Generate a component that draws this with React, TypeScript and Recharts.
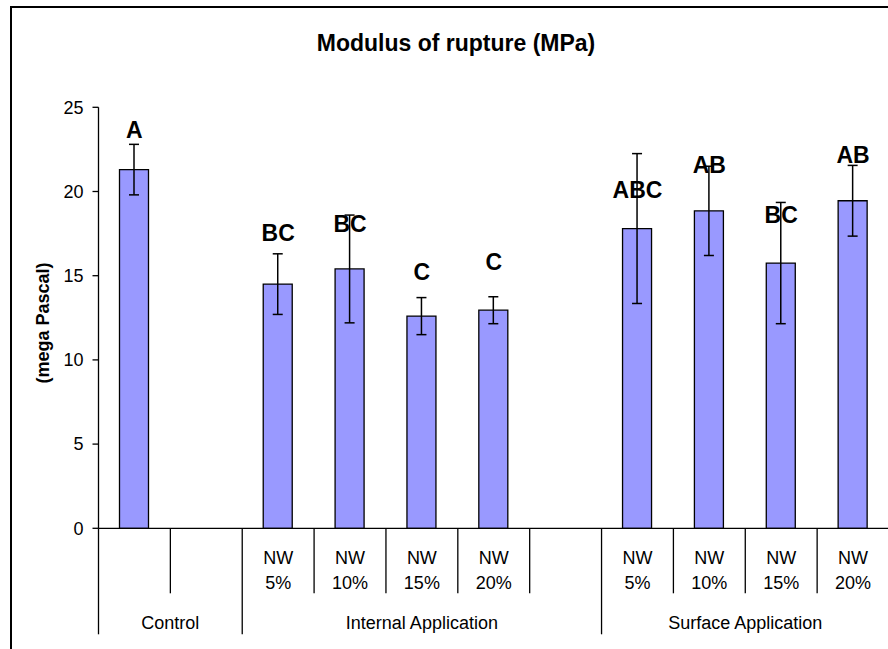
import React from 'react'
import { ComposedChart, Bar, ErrorBar, Scatter, XAxis, YAxis } from 'recharts'

// categories: one slot each, blanks are the gaps between groups
const slotKeys = ['ctrl', 'gap1', 'in5', 'in10', 'in15', 'in20', 'gap2', 'su5', 'su10', 'su15', 'su20']
const subLabels = ['', '', 'NW|5%', 'NW|10%', 'NW|15%', 'NW|20%', '', 'NW|5%', 'NW|10%', 'NW|15%', 'NW|20%']
const groupNames = ['Control', 'Internal Application', 'Surface Application']
const groupSizes = [2, 5, 4]

// modulus of rupture, MPa
const means = [21.3, null, 14.5, 15.4, 12.6, 12.95, null, 17.8, 18.85, 15.75, 19.45]
const errors = [1.5, null, 1.8, 3.2, 1.1, 0.8, null, 4.45, 2.65, 3.6, 2.1]
const letters = ['A', '', 'BC', 'BC', 'C', 'C', '', 'ABC', 'AB', 'BC', 'AB']
const letterAt = [23.65, null, 17.55, 18.05, 15.2, 15.8, null, 20.1, 21.55, 18.6, 22.15]

const yTicks = [0, 5, 10, 15, 20, 25]

const data = slotKeys.map((key, i) => ({
  key,
  sub: subLabels[i],
  mean: means[i],
  err: errors[i],
  letter: letters[i],
  letterAt: letterAt[i],
}))

const FONT = '"Liberation Sans", Arial, sans-serif'
const W = 900
const H = 649
const PLOT_LEFT = 98.5
const PLOT_RIGHT = 889
const PLOT_TOP = 107.3
const PLOT_BOTTOM = 528.3
const SLOT = (PLOT_RIGHT - PLOT_LEFT) / slotKeys.length

// group start index for every slot
const groupStarts: number[] = []
groupSizes.reduce((start, size) => {
  groupStarts.push(start)
  return start + size
}, 0)

const CategoryTick = (props: any) => {
  const { x, payload } = props
  const i: number = payload.index
  const half = SLOT / 2
  const y = PLOT_BOTTOM
  const [l1, l2] = (subLabels[i] || '').split('|')
  const isGroupEnd = groupStarts.includes(i + 1) || i === slotKeys.length - 1
  const g = groupStarts.indexOf(i)
  return (
    <g>
      {i === 0 && <line x1={x - half} x2={x - half} y1={y} y2={y + 106} stroke="#000" strokeWidth={1.3} />}
      <line x1={x + half} x2={x + half} y1={y} y2={y + (isGroupEnd ? 106 : 65)} stroke="#000" strokeWidth={1.3} />
      {l1 && (
        <text x={x} y={y + 30} textAnchor="middle" dominantBaseline="central" fontSize={18} fontFamily={FONT} fill="#000">
          {l1}
        </text>
      )}
      {l2 && (
        <text x={x} y={y + 55} textAnchor="middle" dominantBaseline="central" fontSize={18} fontFamily={FONT} fill="#000">
          {l2}
        </text>
      )}
      {g >= 0 && (
        <text
          x={x - half + groupSizes[g] * half}
          y={y + 95}
          textAnchor="middle"
          dominantBaseline="central"
          fontSize={18}
          fontFamily={FONT}
          fill="#000"
        >
          {groupNames[g]}
        </text>
      )}
    </g>
  )
}

const LetterShape = (props: any) => {
  const { cx, cy, payload } = props
  if (!payload.letter || cy == null || isNaN(cy)) return null
  return (
    <text x={cx} y={cy} textAnchor="middle" dominantBaseline="central" fontSize={23} fontWeight="bold" fontFamily={FONT} fill="#000">
      {payload.letter}
    </text>
  )
}

export default function App() {
  return (
    <div style={{ position: 'absolute', left: 0, top: 0, width: 888, height: 649, overflow: 'hidden', background: '#fff' }}>
      <div
        style={{
          position: 'absolute',
          left: 10,
          top: 6,
          width: 900,
          height: 660,
          border: '2px solid #000',
          boxSizing: 'border-box',
        }}
      />
      <div style={{ position: 'absolute', left: 0, top: 0 }}>
        <ComposedChart
          width={W}
          height={H}
          data={data}
          margin={{ top: PLOT_TOP, right: W - PLOT_RIGHT, bottom: H - PLOT_BOTTOM - 110, left: PLOT_LEFT - 60 }}
          barSize={29}
        >
          <text x={456} y={43} textAnchor="middle" dominantBaseline="central" fontSize={23} fontWeight="bold" fontFamily={FONT} fill="#000">
            Modulus of rupture (MPa)
          </text>
          <text
            x={43}
            y={323}
            transform="rotate(-90 43 323)"
            textAnchor="middle"
            dominantBaseline="central"
            fontSize={18}
            fontWeight="bold"
            fontFamily={FONT}
            fill="#000"
          >
            (mega Pascal)
          </text>
          <XAxis
            dataKey="key"
            interval={0}
            height={110}
            tickLine={false}
            tickSize={0}
            tickMargin={0}
            axisLine={{ stroke: '#000', strokeWidth: 1.3 }}
            tick={<CategoryTick />}
          />
          <YAxis
            width={60}
            domain={[0, 25]}
            ticks={yTicks}
            interval={0}
            tickSize={6}
            tickMargin={9}
            axisLine={{ stroke: '#000', strokeWidth: 1.3 }}
            tickLine={{ stroke: '#000', strokeWidth: 1.3 }}
            tick={{ fill: '#000', fontSize: 18, fontFamily: FONT }}
          />
          <Bar dataKey="mean" fill="#9999FF" stroke="#000" strokeWidth={1.3} isAnimationActive={false}>
            <ErrorBar dataKey="err" width={5} stroke="#000" strokeWidth={1.5} direction="y" />
          </Bar>
          <Scatter dataKey="letterAt" shape={<LetterShape />} isAnimationActive={false} />
        </ComposedChart>
      </div>
    </div>
  )
}
